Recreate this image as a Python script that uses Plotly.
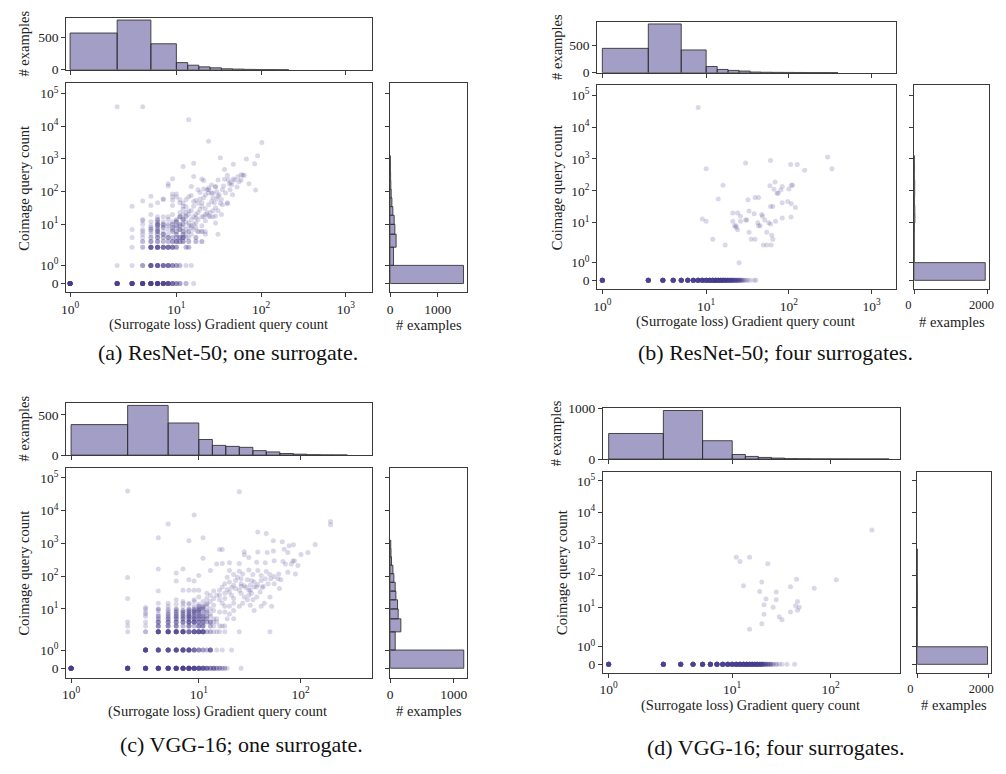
import numpy as np
import plotly.graph_objects as go

W, H = 1006, 774

# ---------------- data ----------------
# bin edges of the marginal histograms (raw query counts)
x_edges = [1, 2, 5, 10, 13.6, 18.4, 25, 34, 46, 62.5, 85, 115, 156, 212, 288, 391, 530, 720, 977, 1330]
y_edges = [0, 1, 2, 5, 10, 19, 35, 65, 119, 216, 390, 700, 1270, 2300, 4200, 7600, 13800, 25000, 45000]

# top histograms (# examples per gradient-count bin)
a_top = [571, 773, 404, 111, 71, 45, 30, 15, 10, 6, 4, 3, 2, 0, 0, 0, 0, 0, 0]
b_top = [446, 893, 417, 113, 60, 42, 30, 12, 8, 6, 5, 4, 3, 3, 2, 0, 0, 0, 0]
c_top = [379, 617, 399, 194, 121, 109, 97, 56, 40, 20, 12, 5, 3, 2, 0, 0, 0, 0, 0]
d_top = [503, 955, 361, 90, 52, 32, 19, 8, 5, 3, 2, 2, 1, 1, 1, 0, 0, 0, 0]

# right histograms (# examples per coimage-count bin)
a_right = [1545, 69, 124, 97, 83, 55, 35, 20, 12, 8, 5, 4, 0, 0, 0, 0, 0, 0]
b_right = [1938, 1, 2, 5, 15, 12, 6, 10, 10, 3, 6, 4, 0, 0, 0, 0, 0, 0]
c_right = [1156, 78, 167, 125, 115, 89, 78, 57, 42, 20, 12, 8, 0, 0, 0, 0, 0, 0]
d_right = [1981, 1, 1, 4, 6, 6, 5, 2, 1, 3, 3, 0, 0, 0, 0, 0, 0, 0]

# scatter points: (gradient count, coimage count, number of examples)
a_points = [
    (1,0,20),(2,0,15),(3,0,15),(4,0,15),(5,0,15),(6,0,15),(7,0,12),(8,0,10),(9,0,6),(10,0,4),(11,0,3),(13,0,2),(16,0,1),
    (2,1,1),(3,1,1),(4,1,3),(5,1,8),(6,1,8),(7,1,6),(8,1,6),(9,1,4),(10,1,3),(11,1,2),(13,1,1),(15,1,1),
    (3,2,1),(4,2,2),(5,2,8),(6,2,8),(7,2,6),(8,2,6),(9,2,5),(10,2,3),(13,2,1),(14,2,1),
    (4,3,2),(5,3,3),(6,3,3),(7,3,2),(8,3,2),(9,3,3),(10,3,4),(11,3,3),(12,3,3),(14,3,1),(17,3,1),(20,3,1),
    (3,4,1),(4,4,1),(5,4,2),(6,4,3),(7,4,2),(8,4,3),(9,4,2),(10,4,2),(11,4,3),(12,4,4),(14,4,1),(17,4,1),
    (4,5,1),(5,5,1),(6,5,2),(7,5,3),(8,5,1),(10,5,2),(12,5,2),(13,5,1),(15,5,1),
    (4,6,1),(5,6,1),(6,6,3),(7,6,1),(9,6,2),(10,6,1),(12,6,2),(14,6,1),(18,6,1),(20,6,1),
    (3,7,1),(4,7,1),(5,7,2),(6,7,2),(8,7,1),(9,7,1),(11,7,2),(13,7,1),
    (5,8,1),(6,8,1),(7,8,2),(9,8,2),(10,8,1),(12,8,1),(15,8,1),
    (5,9,1),(6,9,2),(7,9,1),(8,9,1),(10,9,2),(11,9,1),(14,9,1),
    (4,10,1),(6,10,3),(7,10,2),(8,10,1),(9,10,2),(11,10,2),(12,10,1),(16,10,1),
    (5,12,1),(6,12,2),(7,12,1),(9,12,1),(10,12,2),(13,12,1),
    (4,14,1),(6,14,2),(8,14,1),(10,14,1),(12,14,2),(15,14,1),(18,14,1),
    (6,17,1),(7,17,1),(8,17,1),(11,17,2),(13,17,1),(16,17,1),(20,17,1),(25,17,1),
    (5,20,1),(9,20,1),(12,20,1),(14,20,1),(17,20,1),(22,20,1),
    (2,40000,1),(4,40000,1),(14,16000,1),(24,3500,1),(102,3200,1),(33,1100,1),(67,1000,1),(91,1260,1),
    (47,690,1),(84,710,1),(16,740,1),(12,590,1),(37,480,1),(9,250,1),(20,245,1),(21,220,1),(16,290,1),
    (40,320,1),(41,230,1),(47,245,1),(42,175,1),(58,330,1),(63,310,1),(72,175,1),(86,112,1),(29,145,1),
    (27,91,1),(32,81,1),(35,115,1),(24,115,1),(24,91,1),(46,81,1),(40,43,1),(31,5,1),(8,174,1),(8,150,1),
    (7,60,1),(9,85,1),(9,69,1),(9,55,1),(9,38,1),(4,52,1),(4,13,1),(5,72,1),(5,38,1),(6,46,1),(7,58,1),(3,36,1),
    (10,85,1),(10,69,1),(11,58,1),(11,46,1),(12,36,1),(12,29,1),(13,23,1),(13,18,1),(12,14,1),(14,11,1),
    (15,9,1),(16,7,1),(17,8,1),(17,11,1),(17,16,1),(18,23,1),(19,29,1),(20,36,1),(20,46,1),(21,65,1),
    (22,81,1),(23,115,1),(24,129,1),(26,91,1),(27,65,1),(28,46,1),(29,32,1),(31,26,1),(34,20,1),(25,23,1),
    (24,18,1),(22,13,1),(20,9,1),(18,6,1),(22,5,1),(29,11,1),(31,72,1),(34,58,1),(38,91,1),(43,115,1),
    (45,162,1),(49,229,1),(53,288,1),(58,229,1),(61,324,1),(29,138,1),(31,229,1),(37,240,1),(16,36,1),
    (15,26,1),(14,26,1),(13,58,1),(11,23,1),(11,17,1),(10,13,1),(12,10,1),(11,7,1),(10,6,1),(15,76,1),
    (17,55,1),(18,44,1),(22,30,1),(23,22,1),(21,17,1),(27,17,1),(29,18,1),(27,26,1),(33,44,1),(40,46,1),
    (15,145,1),(18,115,1),(14,6,1),(13,4,1),(17,4,1),(20,6,1),(22,6,1),(14,3,1),(17,3,1),(20,3,1),
    (13,2,1),(14,2,1),(26,50,1),(30,60,1),(35,40,1),(24,40,1),(19,60,1),(16,50,1),(13,35,1),(12,45,1),
    (14,70,1),(19,95,1),(21,120,1),(26,160,1),(30,100,1),(36,150,1),(44,190,1),(52,140,1),(55,200,1),
]

b_points = [
    (1,0,15),(2,0,15),(3,0,15),(4,0,15),(5,0,15),(6,0,15),(7,0,15),(8,0,15),(9,0,15),(10,0,15),(11,0,15),
    (12,0,15),(13,0,15),(14,0,12),(15,0,12),(16,0,10),(17,0,10),(18,0,8),(19,0,8),(20,0,6),(21,0,6),(22,0,5),
    (23,0,4),(24,0,4),(25,0,3),(26,0,3),(27,0,2),(28,0,2),(30,0,2),(32,0,1),(34,0,1),(38,0,1),(40,0,1),
    (8,40700,1),(30,740,1),(60,890,1),(105,670,1),(126,670,1),(155,440,1),(294,1150,1),(331,490,1),(10,490,1),
    (16,148,1),(14,55,1),(9,13,1),(10,11,1),(12,3,1),(17,2,1),(25,1,1),(32,52,1),(43,62,1),(59,145,1),(68,190,1),
    (66,112,1),(74,84,1),(72,84,1),(80,106,1),(83,135,1),(100,114,1),(107,148,1),(111,148,1),(97,46,1),(107,39,1),
    (120,30,1),(83,42,1),(60,32,1),(64,32,1),(39,62,1),(33,23,1),(38,19,1),(21,20,1),(24,20,1),(26,16,1),
    (21,11,1),(26,11,1),(30,12,1),(31,12,1),(23,8,1),(23,7,1),(24,6,1),(22,8,1),(42,10,1),(45,8,1),(43,8,1),
    (47,18,1),(48,16,1),(51,12,1),(57,10,1),(60,9,1),(69,11,1),(83,14,1),(106,15,1),(54,5,1),(62,4,1),
    (64,3,1),(33,5,1),(35,3,1),(39,3,1),(49,2,1),(54,2,1),(61,2,1),
]

c_points = [
    (1,0,20),(2,0,15),(3,0,15),(4,0,15),(5,0,15),(6,0,15),(7,0,15),(8,0,15),(9,0,12),(10,0,10),(11,0,8),(12,0,6),
    (13,0,4),(14,0,5),(15,0,3),(16,0,3),(17,0,2),(18,0,2),(19,0,1),(26,0,1),
    (3,1,12),(4,1,10),(5,1,10),(6,1,10),(7,1,10),(8,1,10),(9,1,6),(10,1,4),(11,1,3),(12,1,2),(13,1,6),(15,1,1),(17,1,1),(21,1,1),
    (2,2,1),(3,2,2),(4,2,10),(5,2,10),(6,2,10),(7,2,10),(8,2,6),(9,2,8),(10,2,8),(11,2,8),(12,2,2),(13,2,2),(14,2,1),
    (15,2,1),(16,2,1),(18,2,1),(25,2,1),(50,2,1),
    (2,3,1),(3,3,1),(4,3,4),(5,3,4),(6,3,4),(7,3,2),(8,3,4),(9,3,2),(10,3,4),(11,3,4),(13,3,2),(14,3,1),(16,3,1),(17,3,1),(18,3,1),
    (3,4,1),(4,4,4),(5,4,4),(6,4,4),(7,4,4),(8,4,6),(9,4,6),(10,4,4),(11,4,4),(12,4,2),(13,4,2),(14,4,1),
    (4,5,2),(5,5,3),(6,5,3),(7,5,3),(8,5,4),(9,5,4),(10,5,3),(11,5,3),(12,5,2),(14,5,1),
    (3,6,1),(4,6,2),(5,6,2),(6,6,3),(7,6,3),(8,6,4),(9,6,3),(10,6,3),(11,6,2),(12,6,2),
    (3,7,1),(4,7,1),(5,7,2),(6,7,2),(7,7,2),(8,7,3),(9,7,2),(10,7,2),(11,7,2),(13,7,1),
    (3,8,1),(5,8,1),(6,8,2),(7,8,2),(8,8,2),(9,8,3),(10,8,2),(12,8,2),
    (4,9,1),(6,9,1),(7,9,2),(8,9,2),(9,9,2),(10,9,2),(11,9,1),
    (4,10,1),(5,10,1),(6,10,1),(8,10,2),(9,10,2),(10,10,3),(11,10,2),(13,10,1),
    (5,12,1),(7,12,1),(9,12,1),(10,12,2),(11,12,2),(12,12,1),
    (6,14,1),(8,14,1),(10,14,1),(12,14,1),(7,17,1),(9,17,1),(11,17,1),
    (38,2240,1),(46,2000,1),(54,1200,1),(66,1120,1),(77,850,1),(85,910,1),(101,460,1),(118,525,1),(139,930,1),
    (197,4700,1),(197,3700,1),(28,560,1),(28,450,1),(38,550,1),(47,525,1),(54,590,1),(69,660,1),(75,525,1),
    (84,290,1),(87,295,1),(94,210,1),(71,234,1),(67,280,1),(55,295,1),(45,255,1),(37,265,1),(31,372,1),
    (25,245,1),(20,257,1),(17,245,1),(15,234,1),(13,148,1),(11,355,1),(16,650,1),(17,650,1),
    (20,148,1),(22,112,1),(25,141,1),(27,117,1),(31,155,1),(34,112,1),(38,148,1),(41,105,1),(46,138,1),
    (50,112,1),(55,98,1),(61,117,1),(64,78,1),(75,132,1),(81,234,1),(89,117,1),(62,42,1),(50,23,1),(44,15,1),
    (52,12,1),(42,45,1),(37,47,1),(32,53,1),(30,78,1),(26,83,1),(23,74,1),(22,53,1),(20,66,1),(19,93,1),
    (18,59,1),(17,47,1),(16,37,1),(15,26,1),(14,21,1),(13,17,1),(12,15,1),(11,11,1),(12,9,1),(20,33,1),
    (21,26,1),(22,21,1),(25,37,1),(26,30,1),(28,23,1),(31,37,1),(33,30,1),(37,23,1),(40,33,1),(27,15,1),
    (30,19,1),(25,12,1),(22,9,1),(20,7,1),(19,5,1),(22,5,1),(16,19,1),(17,15,1),(18,12,1),(14,13,1),
    (14,9,1),(16,8,1),(18,8,1),(20,12,1),(22,15,1),(16,26,1),(18,21,1),(32,13,1),(35,9,1),(41,12,1),
    (33,74,1),(35,66,1),(41,74,1),(48,59,1),(55,59,1),(60,83,1),(51,83,1),(45,83,1),(28,51,1),(26,49,1),
    (23,42,1),(21,45,1),(19,39,1),(18,30,1),(14,35,1),(13,26,1),(12,30,1),(12,21,1),(24,93,1),(26,59,1),
    (29,45,1),(32,37,1),(35,47,1),(38,56,1),(43,49,1),(31,26,1),(34,19,1),(13,6,1),(15,5,1),(13,4,1),(15,4,1),
    (2,40000,1),(25,38000,1),(9,7400,1),(5,3900,1),(4,1500,1),(8,1200,1),(11,1500,1),(2,91,1),(2,21,1),
    (2,4,1),(4,166,1),(4,35,1),(4,15,1),(4,10,1),(6,126,1),(6,71,1),(6,19,1),(7,166,1),(8,78,1),(9,71,1),
    (10,105,1),(10,37,1),(9,37,1),(8,37,1),(7,37,1),(10,23,1),(9,19,1),(8,15,1),(7,15,1),(6,10,1),(5,15,1),
    (5,9,1),(3,10,1),(3,11,1),
]

d_points = [
    (1,0,15),(2,0,15),(3,0,15),(4,0,15),(5,0,15),(6,0,15),(7,0,15),(8,0,15),(9,0,15),(10,0,15),(11,0,15),
    (12,0,15),(13,0,15),(14,0,15),(15,0,12),(16,0,12),(17,0,10),(18,0,10),(19,0,8),(20,0,8),(21,0,5),(22,0,4),
    (23,0,3),(24,0,3),(25,0,2),(26,0,2),(28,0,2),(30,0,1),(32,0,1),(36,0,1),(43,0,1),
    (262,2750,1),(11,380,1),(12,280,1),(15,380,1),(23,237,1),(13,48,1),(20,62,1),(45,77,1),(114,74,1),
    (39,44,1),(68,40,1),(19,31,1),(28,30,1),(22,18,1),(28,17,1),(21,12,1),(26,10,1),(46,15,1),(44,11,1),
    (48,10,1),(46,8,1),(39,7,1),(21,6,1),(30,5,1),(32,4,1),(20,3,1),(15,2,1),
]

captions = ["(a) ResNet-50; one surrogate.", "(b) ResNet-50; four surrogates.",
            "(c) VGG-16; one surrogate.", "(d) VGG-16; four surrogates."]
x_tick_values = [1, 10, 100, 1000]
x_tick_labels = ["10<sup>0</sup>", "10<sup>1</sup>", "10<sup>2</sup>", "10<sup>3</sup>"]
y_tick_values = [0, 1, 10, 100, 1000, 10000, 100000]
y_tick_labels = ["0", "10<sup>0</sup>", "10<sup>1</sup>", "10<sup>2</sup>", "10<sup>3</sup>",
                 "10<sup>4</sup>", "10<sup>5</sup>"]

# ---------------- symlog scale (linthresh=2, linscale=1) ----------------
LINTHRESH = 2.0
LINSCALE_ADJ = 1.0 / (1.0 - 1.0 / 10.0)


def symlog(v):
    v = np.asarray(v, dtype=float)
    a = np.abs(v)
    logpart = np.sign(v) * LINTHRESH * (LINSCALE_ADJ + np.log10(np.maximum(a, 1e-12) / LINTHRESH))
    return np.where(a <= LINTHRESH, v * LINSCALE_ADJ, logpart)


# ---------------- layout geometry (pixels) ----------------
panels = [
    dict(pts=a_points, top=a_top, right=a_right,
         main=(57, 367, 78, 291), topb=(11, 64), rightb=(386, 464),
         xr=[1.018, 8.227], yr=[-0.54, 12.24], topmax=808, rightmax=1621,
         topticks=[0, 500], rightticks=[0, 1000], rshift=0,
         ylab=(14, 184.5), toplab=(14, 37.5), xlab=(212, 324), rlab=(425, 324), cap=(221, 352)),
    dict(pts=b_points, top=b_top, right=b_right,
         main=(596, 899, 80, 288), topb=(15, 67), rightb=(918, 994),
         xr=[0.985, 8.199], yr=[-0.57, 12.23], topmax=934, rightmax=2046,
         topticks=[0, 500], rightticks=[0, 2000], rshift=-6,
         ylab=(556, 184), toplab=(555, 41), xlab=(747, 321), rlab=(956, 321), cap=(777, 352)),
    dict(pts=c_points, top=c_top, right=c_right,
         main=(57, 367, 470, 684), topb=(404, 457), rightb=(386, 464),
         xr=[1.014, 7.014], yr=[-0.58, 12.23], topmax=645, rightmax=1208,
         topticks=[0, 500], rightticks=[0, 1000], rshift=0,
         ylab=(14, 577), toplab=(14, 430), xlab=(211, 718), rlab=(425, 718), cap=(235, 752)),
    dict(pts=d_points, top=d_top, right=d_right,
         main=(602, 903, 474, 679), topb=(409, 461), rightb=(921, 996),
         xr=[0.997, 7.017], yr=[-0.54, 12.19], topmax=1003, rightmax=2083,
         topticks=[0, 1000], rightticks=[0, 2000], rshift=-7,
         ylab=(561, 576.5), toplab=(554, 435), xlab=(752, 712), rlab=(958, 712), cap=(777, 755)),
]

FONT = "Liberation Serif"
TXT = "#222222"
LINE = "#3a3a3a"
SCAT = "rgba(72,61,139,0.2)"
HISTC = "rgba(72,61,139,0.5)"
EDGE = "rgba(45,45,45,0.85)"


def xd(px):
    return px / W


def yd(py):
    return 1 - py / H


def axstyle(size=13.5, **kw):
    d = dict(showline=True, mirror=True, linecolor=LINE, linewidth=1, ticks="outside", ticklen=4,
             tickwidth=1, tickcolor=LINE, showgrid=False, zeroline=False,
             tickfont=dict(family=FONT, size=size, color=TXT))
    d.update(kw)
    return d


fig = go.Figure()
layout = {}
annotations = []

xe = symlog(x_edges)
ye = symlog(y_edges)

for i, p in enumerate(panels):
    k_main, k_top, k_right = 3 * i + 1, 3 * i + 2, 3 * i + 3
    names = {}
    for k in (k_main, k_top, k_right):
        names[k] = ("x" if k == 1 else f"x{k}", "y" if k == 1 else f"y{k}",
                    "xaxis" if k == 1 else f"xaxis{k}", "yaxis" if k == 1 else f"yaxis{k}")
    x0, x1, y0, y1 = p["main"]
    tb0, tb1 = p["topb"]
    rb0, rb1 = p["rightb"]

    # scatter
    pts = np.array(p["pts"], dtype=float)
    sx = np.repeat(pts[:, 0], pts[:, 2].astype(int))
    sy = np.repeat(pts[:, 1], pts[:, 2].astype(int))
    fig.add_trace(go.Scatter(x=symlog(sx), y=symlog(sy), mode="markers",
                             marker=dict(size=5, color=SCAT, line=dict(width=0)),
                             xaxis=names[k_main][0], yaxis=names[k_main][1],
                             showlegend=False, hoverinfo="skip"))
    # top histogram
    tc = np.array(p["top"], dtype=float)
    keep = tc > 0
    centers = ((xe[:-1] + xe[1:]) / 2)[keep]
    widths = (xe[1:] - xe[:-1])[keep]
    fig.add_trace(go.Bar(x=centers, y=tc[keep], width=widths,
                         marker=dict(color=HISTC, line=dict(color=EDGE, width=1)),
                         xaxis=names[k_top][0], yaxis=names[k_top][1], showlegend=False))
    # right histogram
    rc = np.array(p["right"], dtype=float)
    keep = rc > 0
    centers = ((ye[:-1] + ye[1:]) / 2)[keep]
    widths = (ye[1:] - ye[:-1])[keep]
    fig.add_trace(go.Bar(y=centers, x=rc[keep], width=widths, orientation="h",
                         marker=dict(color=HISTC, line=dict(color=EDGE, width=1)),
                         xaxis=names[k_right][0], yaxis=names[k_right][1], showlegend=False))

    xt = symlog(x_tick_values)
    yt = symlog(y_tick_values)
    # main axes
    layout[names[k_main][2]] = axstyle(domain=[xd(x0), xd(x1)], range=p["xr"], anchor=names[k_main][1],
                                       tickvals=xt, ticktext=x_tick_labels)
    layout[names[k_main][3]] = axstyle(domain=[yd(y1), yd(y0)], range=p["yr"], anchor=names[k_main][0],
                                       tickvals=yt, ticktext=y_tick_labels)
    # top hist axes
    layout[names[k_top][2]] = axstyle(domain=[xd(x0), xd(x1)], range=p["xr"], anchor=names[k_top][1],
                                      tickvals=xt, showticklabels=False)
    layout[names[k_top][3]] = axstyle(domain=[yd(tb1), yd(tb0)], range=[0, p["topmax"]],
                                      anchor=names[k_top][0], tickvals=p["topticks"])
    # right hist axes
    layout[names[k_right][2]] = axstyle(size=12.5 if p["rshift"] else 13.5,
                                        domain=[xd(rb0), xd(rb1)], range=[0, p["rightmax"]],
                                        anchor=names[k_right][1], tickvals=p["rightticks"],
                                        ticklabelshift=p["rshift"])
    layout[names[k_right][3]] = axstyle(domain=[yd(y1), yd(y0)], range=p["yr"], anchor=names[k_right][0],
                                        tickvals=yt, showticklabels=False)

    lab = dict(family=FONT, size=14.5, color=TXT)
    for (px, py), txt, ang in [(p["ylab"], "Coimage query count", -90),
                               (p["toplab"], "# examples", -90),
                               (p["xlab"], "(Surrogate loss) Gradient query count", 0),
                               (p["rlab"], "# examples", 0)]:
        annotations.append(dict(x=xd(px), y=yd(py), xref="paper", yref="paper", text=txt,
                                textangle=ang, showarrow=False, font=lab,
                                xanchor="center", yanchor="middle"))
    annotations.append(dict(x=xd(p["cap"][0]), y=yd(p["cap"][1]), xref="paper", yref="paper",
                            text=captions[i], showarrow=False,
                            font=dict(family=FONT, size=22, color="#111111"),
                            xanchor="center", yanchor="middle"))

fig.update_layout(width=W, height=H, margin=dict(l=0, r=0, t=0, b=0),
                  paper_bgcolor="white", plot_bgcolor="white", barmode="overlay",
                  annotations=annotations, showlegend=False, **layout)

fig.write_html("out.html")
